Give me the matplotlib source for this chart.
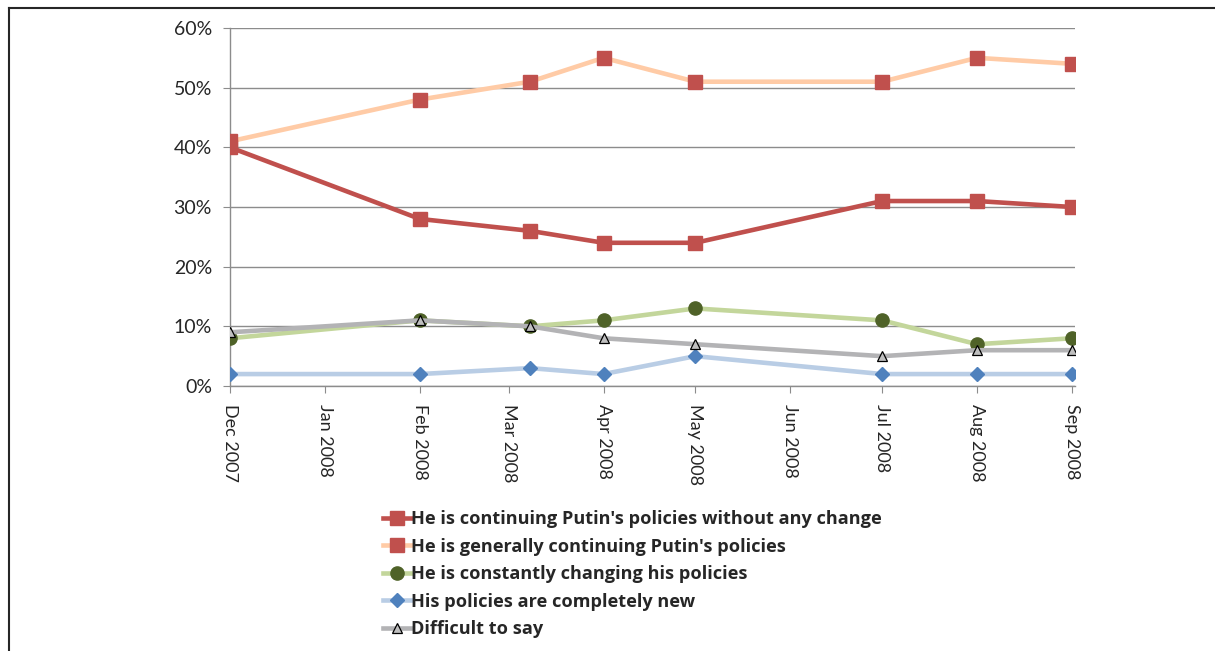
import matplotlib
matplotlib.use('Agg')
import matplotlib.pyplot as plt
import matplotlib.dates as mdates
from matplotlib.lines import Line2D
from datetime import datetime

plt.rcParams['font.family'] = ['Lato', 'DejaVu Sans']

# Umfragezeitpunkte
dates = [datetime(2007, 12, 1), datetime(2008, 2, 1), datetime(2008, 3, 8),
         datetime(2008, 4, 1), datetime(2008, 5, 1), datetime(2008, 7, 1),
         datetime(2008, 8, 1), datetime(2008, 9, 1)]

no_change = [40, 28, 26, 24, 24, 31, 31, 30]
generally = [41, 48, 51, 55, 51, 51, 55, 54]
changing = [8, 11, 10, 11, 13, 11, 7, 8]
new = [2, 2, 3, 2, 5, 2, 2, 2]
difficult = [9, 11, 10, 8, 7, 5, 6, 6]

labels = ["He is continuing Putin's policies without any change",
          "He is generally continuing Putin's policies",
          "He is constantly changing his policies",
          "His policies are completely new",
          "Difficult to say"]

tick_months = [datetime(2007, 12, 1)] + [datetime(2008, m, 1) for m in range(1, 10)]

fig = plt.figure(figsize=(12.15, 6.51), dpi=100)
ax = fig.add_axes([230/1215, 1-386/651, 845/1215, 358/651])

lw = 3.3
ax.plot(dates, no_change, color='#C0504D', lw=lw, marker='s', ms=9.5,
        mfc='#C0504D', mec='#C0504D', label=labels[0], zorder=4)
ax.plot(dates, generally, color='#FFCBA6', lw=lw, marker='s', ms=9.5,
        mfc='#C0504D', mec='#C0504D', label=labels[1], zorder=3)
ax.plot(dates, changing, color='#C3D69B', lw=lw, marker='o', ms=9.5,
        mfc='#4F6228', mec='#4F6228', label=labels[2], zorder=3)
ax.plot(dates, new, color='#B9CDE5', lw=lw, marker='D', ms=7.5,
        mfc='#4F81BD', mec='#4F81BD', label=labels[3], zorder=3)
ax.plot(dates, difficult, color='#B3B3B5', lw=lw, marker='^', ms=7.5,
        mfc='#BFBFBF', mec='#000000', mew=0.9, label=labels[4], zorder=3)

ax.set_ylim(0, 60)
ax.set_yticks(range(0, 61, 10))
ax.set_yticklabels([f'{v}%' for v in range(0, 61, 10)])
ax.set_xlim(datetime(2007, 12, 1), datetime(2008, 9, 2))
ax.set_xticks(tick_months)
ax.xaxis.set_major_formatter(mdates.DateFormatter('%b %Y'))

ax.grid(axis='y', color='#8C8C8C', lw=1)
ax.set_axisbelow(True)
for s in ['top', 'right']:
    ax.spines[s].set_visible(False)
for s in ['left', 'bottom']:
    ax.spines[s].set_color('#8C8C8C')
    ax.spines[s].set_linewidth(1)

ax.tick_params(axis='y', length=5, color='#8C8C8C', labelsize=14, pad=8, labelcolor='#262626')
ax.tick_params(axis='x', length=5, color='#8C8C8C', labelsize=13, pad=8, labelcolor='#262626')
for t in ax.get_xticklabels():
    t.set_rotation(270)
    t.set_va('top')
    t.set_ha('center')

leg = fig.legend(loc='upper left', bbox_to_anchor=(376/1215, 1-503/651), frameon=False,
                 handlelength=1.5, handletextpad=0.05, labelspacing=0.52,
                 prop={'size': 13.1, 'weight': 'bold', 'family': ['Open Sans', 'DejaVu Sans']},
                 borderaxespad=0)
for t in leg.get_texts():
    t.set_color('#262626')

# Rahmen oben und links
fig.add_artist(Line2D([9/1215, 1], [1-8/651, 1-8/651], color='#262626', lw=1.5,
                      transform=fig.transFigure))
fig.add_artist(Line2D([9/1215, 9/1215], [0, 1-8/651], color='#262626', lw=1.5,
                      transform=fig.transFigure))

fig.savefig('out.png', dpi=100)
